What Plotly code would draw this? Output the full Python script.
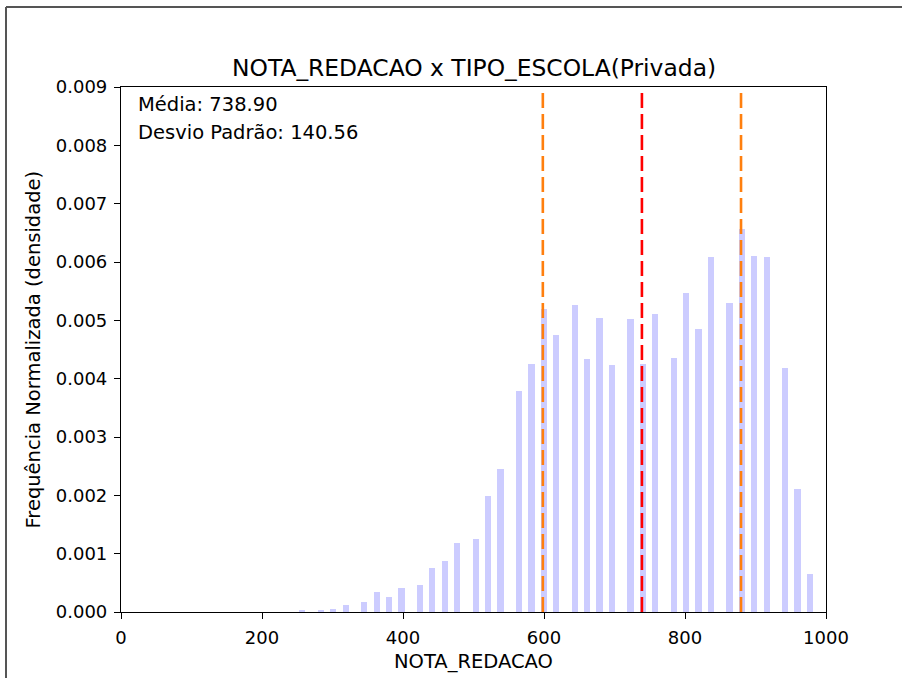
import plotly.graph_objects as go

# Histogram bars (bin centres in NOTA_REDACAO units) and normalised densities
bin_centers = [257.3, 283.6, 301.2, 318.8, 345.1, 362.7, 380.2, 397.8, 424.1, 441.7,
               459.2, 476.8, 503.1, 520.7, 538.3, 564.6, 582.2, 599.7, 617.3, 643.6,
               661.2, 678.7, 696.3, 722.6, 740.2, 757.8, 784.1, 801.7, 819.2, 836.8,
               863.1, 880.7, 898.2, 915.8, 942.1, 959.7, 977.3]
densities = [0.00003, 0.00003, 0.00005, 0.00012, 0.00017, 0.00034, 0.00026, 0.00041, 0.00046, 0.00075,
             0.00087, 0.00119, 0.00126, 0.00199, 0.00246, 0.00379, 0.00426, 0.00519, 0.00475, 0.00526,
             0.00433, 0.00504, 0.00424, 0.00502, 0.00425, 0.00511, 0.00436, 0.00547, 0.00485, 0.00608,
             0.00530, 0.00657, 0.00611, 0.00608, 0.00418, 0.00211, 0.00065]
bin_width = 8.78

media = 738.90
desvio = 140.56

x_ticks = [0, 200, 400, 600, 800, 1000]
y_ticks = [0.000, 0.001, 0.002, 0.003, 0.004, 0.005, 0.006, 0.007, 0.008, 0.009]

FONT = "DejaVu Sans"

fig = go.Figure()
fig.add_trace(go.Bar(
    x=bin_centers, y=densities, width=[bin_width] * len(bin_centers),
    marker=dict(color="rgba(0,0,255,0.2)", line=dict(width=0)),
    showlegend=False, hoverinfo="x+y",
))

for xv, col in [(media - desvio, "#ff7f0e"), (media, "#ff0000"), (media + desvio, "#ff7f0e")]:
    fig.add_shape(type="line", xref="x", yref="paper", x0=xv, x1=xv, y0=0, y1=1,
                  line=dict(color=col, width=2.6, dash="15px,6px"), layer="above")

# outer frame (notebook cell border)
fig.add_shape(type="line", xref="paper", yref="paper",
              x0=(6 - 121) / 705, x1=1.2, y0=(612 - 7) / 525, y1=(612 - 7) / 525,
              line=dict(color="#555555", width=2))
fig.add_shape(type="line", xref="paper", yref="paper",
              x0=(6 - 121) / 705, x1=(6 - 121) / 705, y0=(612 - 7) / 525, y1=-0.3,
              line=dict(color="#555555", width=2))

annotations = [
    dict(text=f"Média: {media:.2f}", x=(136 - 121) / 705, y=(612 - 105) / 525,
         xanchor="left", yanchor="middle", font=dict(size=19.5)),
    dict(text=f"Desvio Padrão: {desvio:.2f}", x=(136 - 121) / 705, y=(612 - 132) / 525,
         xanchor="left", yanchor="middle", font=dict(size=19.5)),
    dict(text="NOTA_REDACAO x TIPO_ESCOLA(Privada)", x=0.5, y=(612 - 68) / 525,
         xanchor="center", yanchor="middle", font=dict(size=23.4)),
    dict(text="NOTA_REDACAO", x=0.5, y=(612 - 661) / 525,
         xanchor="center", yanchor="middle", font=dict(size=19.5)),
    dict(text="Frequência Normalizada (densidade)", x=(33 - 121) / 705, y=0.5,
         xanchor="center", yanchor="middle", textangle=-90, font=dict(size=19.5)),
]
for a in annotations:
    a.update(xref="paper", yref="paper", showarrow=False)
    a["font"].update(family=FONT, color="black")

axis_common = dict(showline=True, linecolor="black", linewidth=1.2, mirror=True,
                   ticks="outside", ticklen=6, tickwidth=1.2, tickcolor="black",
                   showgrid=False, zeroline=False, ticklabelstandoff=3,
                   tickfont=dict(family=FONT, size=18, color="black"))

fig.update_layout(
    width=902, height=678,
    margin=dict(l=121, r=76, t=87, b=66, pad=0),
    paper_bgcolor="white", plot_bgcolor="white",
    bargap=0,
    xaxis=dict(range=[0, 1000], tickvals=x_ticks, **axis_common),
    yaxis=dict(range=[0, 0.009], tickvals=y_ticks, tickformat=".3f", **axis_common),
    annotations=annotations,
    font=dict(family=FONT),
)

fig.write_html("out.html", config={"displayModeBar": False},
               post_script="document.body.style.margin='0';document.body.style.overflow='hidden';")
